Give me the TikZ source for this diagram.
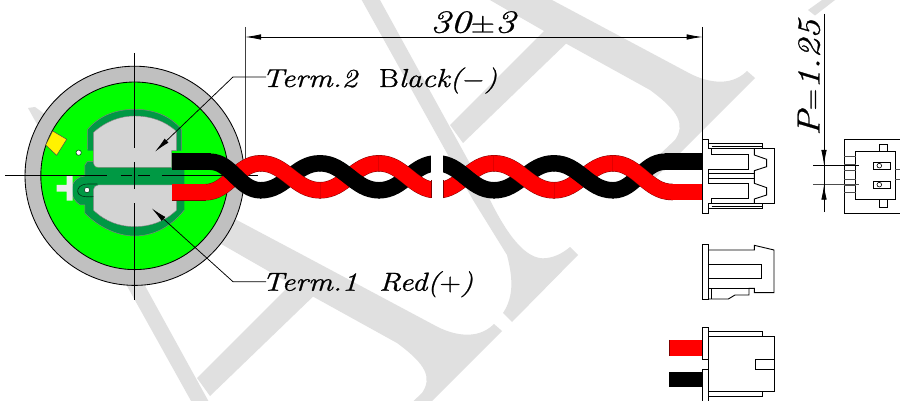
\documentclass[tikz,border=0pt]{standalone}
\usepackage{graphicx}
\usetikzlibrary{arrows.meta}
\definecolor{pcbgreen}{RGB}{0,255,0}
\definecolor{dkgreen}{RGB}{0,153,68}
\definecolor{cellgray}{RGB}{212,212,212}
\definecolor{rimgray}{RGB}{192,192,192}
\definecolor{wmgray}{RGB}{224,224,224}
\newcommand\fittext[2]{\resizebox{#1}{\height}{\special{pdf:code 2 Tr 0.22 w}#2\special{pdf:code 0 Tr}}}
\newcommand\wirepiece[5]{\draw[#1] ({#2-0.5},#3) -- (#2,#3) .. controls ({#2+0.42*(#4-#2)},#3) and ({#4-0.42*(#4-#2)},#5) .. (#4,#5) -- ({#4+0.5},#5);}
\newcommand\watermark{%
 \fill[wmgray] (281,-145) -- (288,-146) -- (310,-130) -- (380,0) -- (490,200)
   .. controls (505,230) and (525,262) .. (547,258) .. controls (555,257) and (563,253) .. (570,247)
   -- (578,255) -- (512,322) -- (503,313) .. controls (515,295) and (512,275) .. (507,255) -- (473,200) -- cycle;
 \fill[wmgray] (450,125) -- (555,20) -- (575,35) -- (463,143) -- cycle;
 \fill[wmgray] (420,-70) -- (552,0) -- (687,72) .. controls (705,82) and (730,88) .. (747,71)
   -- (755,78) -- (650,183) -- (640,175) -- (657,157) -- (675,140) .. controls (685,125) and (680,112) .. (650,90)
   -- (565,43) -- (420,-40) -- cycle;
}
\tikzset{
 x=1pt,y=-1pt,
 thinline/.style={line width=.85pt,black},
 blackw/.style={line width=16.5pt,black},
 redw/.style={draw=red!50!black,double=red,double distance=15.6pt,line width=.45pt},
 dimarrow/.style={thinline,{Latex[length=16pt,width=5.5pt]}-{Latex[length=16pt,width=5.5pt]}},
 leader/.style={line width=.75pt,black,-{Latex[length=16pt,width=5.5pt]}},
 lbl/.style={inner sep=0pt,anchor=base west,font=\fontsize{26}{30}\selectfont\itshape},
 dimlbl/.style={inner sep=0pt,anchor=base west,font=\fontsize{32}{36}\selectfont\itshape},
 conn/.style={line width=.9pt,black,line join=miter},
}
\begin{document}
\begin{tikzpicture}
\useasboundingbox (0,0) rectangle (900,401);
\fill[white] (0,0) rectangle (900,401);
% watermark
\watermark
\begin{scope}[shift={(-253,253)}]\watermark\end{scope}
\fill[wmgray] (808,10) -- (822,0) -- (835,0) -- (815,15.5) -- cycle;
% disk
\coordinate (cc) at (134.6,175.8);
\fill[rimgray] (cc) circle (109.6);
\draw[thinline] (cc) circle (109.6);
\fill[pcbgreen] (cc) circle (93.8);
\draw[thinline] (cc) circle (93.8);
\begin{scope}[shift={(0,50)},x=0.3333pt,y=-0.3333pt]
 \fill[dkgreen] (263,298) -- (263,238) .. controls (300,195) and (350,178) .. (404,178)
   .. controls (458,178) and (508,195) .. (545,238) -- (545,302) -- (263,302) -- cycle;
 \draw[gray,line width=.5pt] (263,298) -- (263,238) .. controls (300,195) and (350,178) .. (404,178)
   .. controls (458,178) and (508,195) .. (545,238) -- (545,302);
 \fill[dkgreen] (255,345) -- (262,335) -- (285,335) -- (285,352) -- (553,352) -- (553,480)
   .. controls (510,535) and (455,558) .. (404,558) .. controls (350,558) and (295,530) .. (255,490)
   -- (255,465) -- (240,465) .. controls (225,455) and (215,440) .. (215,420)
   .. controls (215,395) and (235,378) .. (255,378) -- cycle;
 \draw[gray,line width=.5pt] (553,480) .. controls (510,535) and (455,558) .. (404,558) .. controls (350,558) and (295,530) .. (255,490)
   -- (255,465) -- (240,465) .. controls (225,455) and (215,440) .. (215,420)
   .. controls (215,395) and (235,378) .. (255,378) -- (255,345) -- (262,335) -- (285,335);
 \filldraw[fill=cellgray,draw=gray,line width=.4pt] (280,248) .. controls (315,215) and (360,198) .. (404,198)
   .. controls (450,198) and (495,212) .. (530,245) -- (530,302) -- (515,302) -- (515,352) -- (295,352)
   .. controls (285,352) and (280,345) .. (280,338) -- cycle;
 \filldraw[fill=cellgray,draw=gray,line width=.4pt] (295,405) -- (530,405) -- (530,480)
   .. controls (495,515) and (450,530) .. (404,530) .. controls (360,530) and (315,515) .. (280,480)
   -- (280,420) .. controls (280,412) and (287,405) .. (295,405) -- cycle;
 \draw[black!70!dkgreen,line width=.6pt] (292,402) -- (265,402) .. controls (240,402) and (232,415) .. (233,425)
   .. controls (235,438) and (250,442) .. (280,440);
 \filldraw[fill=white,draw=black!70!dkgreen,line width=.5pt] (261,420) circle (8);
 \filldraw[fill=white,draw=black!70!dkgreen,line width=.5pt] (236,308) circle (8);
 \fill[black!8] (170,405) -- (200,405) -- (200,378) -- (218,378) -- (218,452) -- (200,452) -- (200,425) -- (170,425) -- cycle;
 \filldraw[fill=yellow,draw=black!70,line width=.5pt] (158,243) -- (200,268) -- (170,316) -- (137,285) -- cycle;
\end{scope}
% centre lines
\draw[thinline] (134.6,53) -- (134.6,148);
\draw[thinline] (134.6,162) -- (134.6,189);
\draw[thinline] (134.6,203) -- (134.6,300);
\draw[thinline] (5,175.8) -- (106.7,175.8);
\draw[thinline] (120.7,175.8) -- (131.7,175.8);
\draw[thinline] (138,175.8) -- (150,175.8);
\draw[thinline] (161.7,175.8) -- (258,175.8);
% dimension 30
\coordinate (dimL) at (245,37);
\coordinate (dimR) at (702.7,37);
\coordinate (extL) at (245,27);
\coordinate (extR) at (702.7,27);
\draw[line width=.9pt,black!75] (extL) -- (245,176);
\draw[thinline] (extR) -- (702.7,140);
\draw[dimarrow] (dimL) -- (dimR);
\node[dimlbl] (dimtext) at (430,32.5) {\fittext{85pt}{30$\pm$3}};
% wires
\def\ya{163.3}\def\yb{190.3}
\wirepiece{redw}{205}{192.3}{260.7}{\ya}
\draw[redw] (172,192.3) -- (205.5,192.3);
\wirepiece{redw}{320}{\yb}{379}{\ya}
\wirepiece{redw}{437}{\yb}{494}{\ya}
\wirepiece{redw}{554}{\yb}{613}{\ya}
\wirepiece{blackw}{260.7}{\yb}{320}{\ya}
\wirepiece{blackw}{379}{\yb}{437}{\ya}
\wirepiece{blackw}{494}{\yb}{554}{\ya}
\wirepiece{blackw}{613}{\yb}{665}{161.7}
\draw[blackw] (665,161.7) -- (702.5,161.7);
\draw[blackw] (172,161.7) -- (210.5,161.7);
\wirepiece{blackw}{210}{161.7}{260.7}{\yb}
\wirepiece{blackw}{320}{\ya}{379}{\yb}
\wirepiece{blackw}{437}{\ya}{494}{\yb}
\wirepiece{blackw}{554}{\ya}{613}{\yb}
\wirepiece{redw}{260.7}{\ya}{320}{\yb}
\wirepiece{redw}{379}{\ya}{437}{\yb}
\wirepiece{redw}{494}{\ya}{554}{\yb}
\wirepiece{redw}{613}{\ya}{672}{192}
\draw[redw] (671.5,192) -- (702.5,192);
\fill[white] (431,148) rectangle (443,206);
\draw[red!50!black,line width=.5pt] (431,180) -- (431,197.5);
\draw[red!50!black,line width=.5pt] (443,180) -- (443,197.5);
% labels and leaders
\node[lbl] (term2) at (262,87) {\fittext{235pt}{Term.2\ \ \textup{B}lack($-$)}};
\node[lbl] (term1) at (262,290.7) {\fittext{211pt}{Term.1\ \ Red($+$)}};
\coordinate (e2) at (233,77);
\coordinate (tip2) at (155,151.7);
\coordinate (e1) at (233,281.7);
\coordinate (tip1) at (151.7,208.3);
\draw[leader] ([xshift=4pt]term2.west |- e2) -- (e2) -- (tip2);
\draw[leader] ([xshift=4pt]term1.west |- e1) -- (e1) -- (tip1);
% connectors (zoomed coordinates)
\begin{scope}[shift={(660,120)},x=0.3333pt,y=-0.3333pt]
 % connector 1
 \draw[conn] (127,58) -- (145,58) -- (145,85) -- (155,85) -- (155,102) -- (265,102) -- (265,147) -- (145,147) -- (145,190) -- (265,190) -- (265,235) -- (155,235) -- (155,250) -- (145,250) -- (145,280) -- (127,280) -- cycle;
 \draw[conn] (145,70) -- (307,70) -- (307,85);
 \draw[conn] (155,78) -- (307,78);
 \draw[conn] (155,85) -- (342,85) -- (342,250) -- (155,250);
 \draw[conn] (155,258) -- (307,258);
 \draw[conn] (145,265) -- (307,265) -- (307,250);
 \draw[conn] (145,160) -- (283,160);
 \draw[conn] (145,176) -- (283,176);
 \draw[conn] (283,85) -- (283,105) -- (320,118) -- (320,140) -- (283,152) -- (283,190) -- (320,203) -- (320,225) -- (283,237) -- (283,250);
 % connector 2
 \draw[conn] (127,373) rectangle (145,537);
 \draw[conn] (145,390) -- (283,390) -- (283,376) -- (342,390) -- (342,518) -- (283,518) -- (283,505) -- (267,505) -- (267,525) -- (225,525) -- (205,537) -- (145,537);
 \draw[conn] (145,433) -- (303,433) -- (303,476) -- (145,476);
 \draw[conn] (145,505) -- (267,505);
 \draw[conn] (155,505) -- (155,537);
 % connector 3
 \fill[red] (28,660) rectangle (128,707);
 \draw[red!50!black,line width=.4pt] (28,660) -- (28,707);
 \fill[black] (28,755) rectangle (130,802);
 \draw[conn] (127,718) -- (127,622) -- (145,622) -- (145,718) -- cycle;
 \draw[conn] (127,843) -- (127,748) -- (145,748) -- (145,843);
 \draw[conn] (145,718) -- (145,748);
 \draw[conn] (145,635) -- (307,635) -- (307,650);
 \draw[conn] (145,650) -- (342,650) -- (342,815) -- (145,815);
 \draw[conn] (145,830) -- (307,830) -- (307,815);
 \draw[conn] (342,718) -- (287,718) -- (287,748) -- (342,748);
 % connector 4
 \draw[conn] (720,58) -- (553,58) -- (553,280) -- (720,280);
 \draw[conn] (587,93) rectangle (705,238);
 \draw[conn] (658,93) -- (658,72) -- (682,72) -- (682,93);
 \draw[conn] (658,238) -- (658,262) -- (682,262) -- (682,238);
 \draw[conn] (640,126) rectangle (690,147);
 \draw[conn] (640,184) rectangle (690,205);
 \draw[conn,line width=.6pt] (658,137) circle (7);
 \draw[conn,line width=.6pt] (658,194) circle (7);
 \foreach \yy in {110,133,150,178,195,218} {\draw[conn,black!70] (553,\yy) -- (587,\yy);}
 \draw[conn,black!70] (705,147) -- (720,147);
 \draw[conn,black!70] (705,179) -- (720,179);
 % pitch extension lines
 \draw[conn] (460,135) -- (598,135);
 \draw[conn,black!70] (460,194) -- (598,194);
\end{scope}
% pitch dimension
\coordinate (pT) at (824,14);
\coordinate (pB) at (824,212);
\coordinate (pA) at (824,165);
\coordinate (pC) at (824,184.7);
\draw[thinline] (pT) -- (pB);
\draw[thinline,-{Latex[length=15pt,width=5.5pt]}] (pT) -- (pA);
\draw[thinline,-{Latex[length=15pt,width=5.5pt]}] (pB) -- (pC);
\node[dimlbl,rotate=90] (ptext) at (819.5,136) {\fittext{116pt}{P$=$1.25}};
\end{tikzpicture}
\end{document}
